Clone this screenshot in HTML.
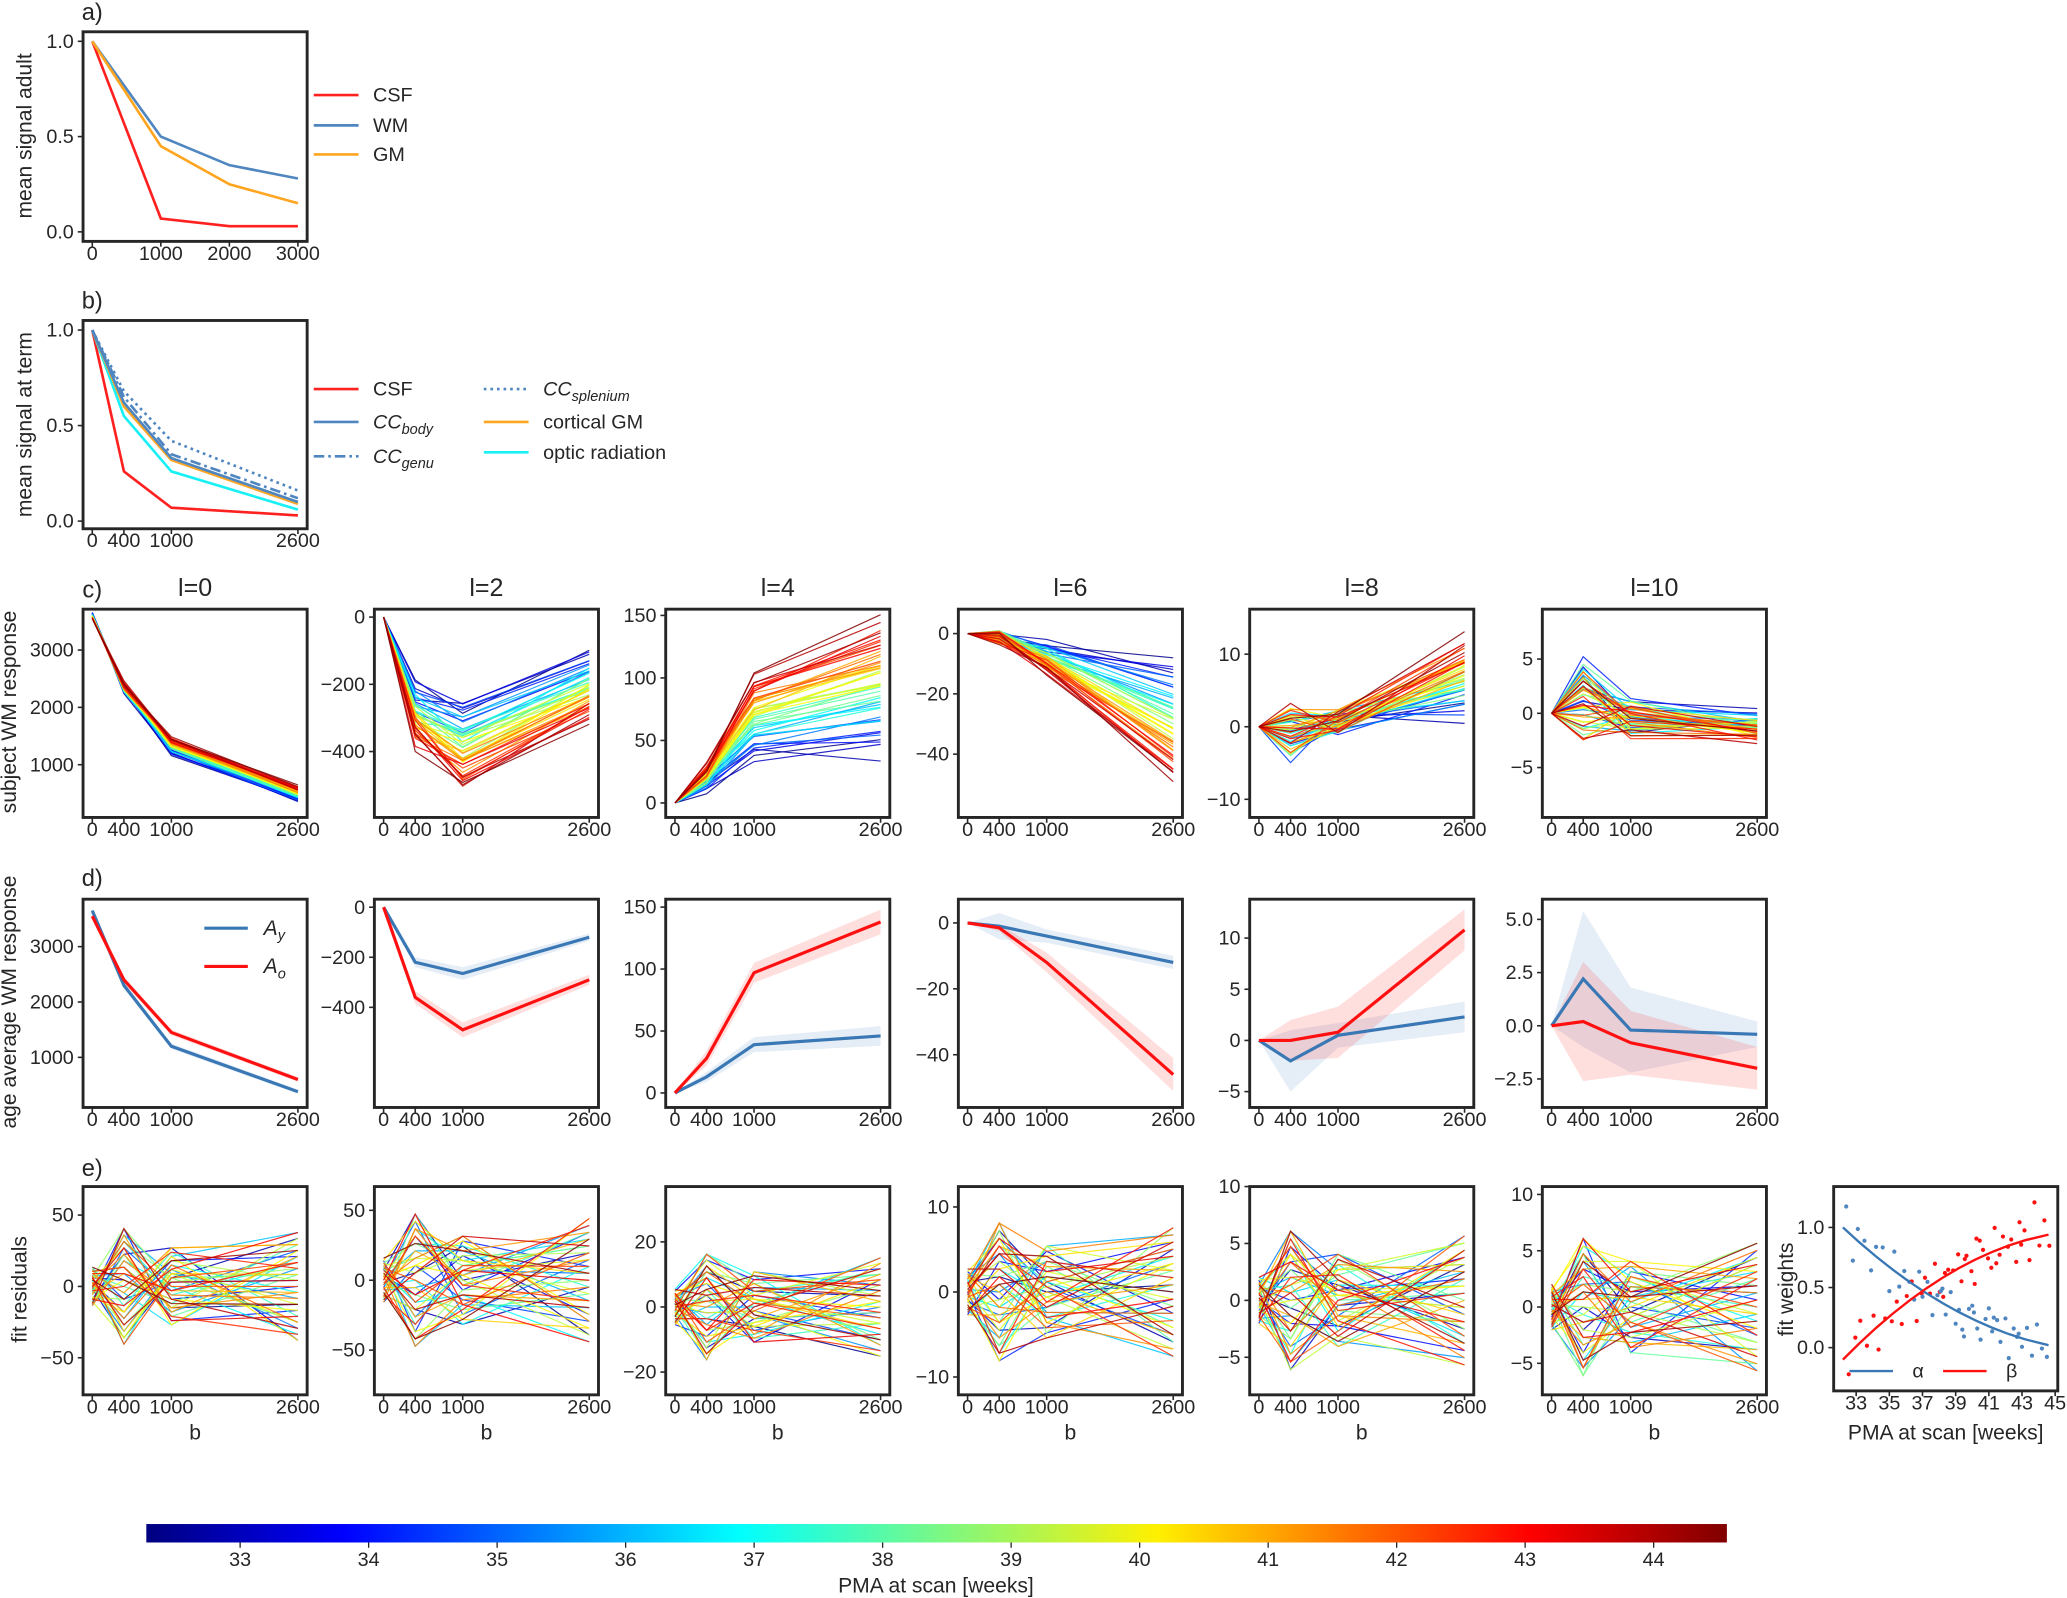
<!DOCTYPE html>
<html><head><meta charset="utf-8">
<style>
html,body{margin:0;padding:0;background:#fff;}
svg{display:block;font-family:"Liberation Sans","DejaVu Sans",sans-serif;}
</style></head>
<body>
<svg id="fig" width="2067" height="1598" viewBox="0 0 1568 1212" xmlns="http://www.w3.org/2000/svg"></svg>
<script>
// ---------- data ----------
const bA = [0,1000,2000,3000];
const aCSF = [1,0.07,0.03,0.03];
const aWM = [1,0.5,0.35,0.28];
const aGM = [1,0.45,0.25,0.15];
const bB = [0,400,1000,2600];
const tCSF = [1,0.26,0.07,0.03];
const tBody = [1,0.62,0.33,0.10];
const tGenu = [1,0.65,0.35,0.12];
const tSpl = [1,0.68,0.42,0.16];
const tGM = [1,0.60,0.32,0.09];
const tOR = [1,0.55,0.26,0.06];
const harmonics = ["l=0","l=2","l=4","l=6","l=8","l=10"];
const Ay = [[3650,2300,1200,380],[0,-220,-265,-120],[0,13,39,46],[0,-1,-4,-12],[0,-2,0.5,2.3],[0,2.2,-0.2,-0.4]];
const Ao = [[3550,2400,1450,600],[0,-360,-490,-290],[0,28,97,138],[0,-1.5,-12,-46],[0,0,0.8,10.8],[0,0.2,-0.8,-2]];
const bandY = [[40,60,50,40],[0,20,25,15],[0,4,6,8],[0,4,2,2],[0,3,1.2,1.5],[0,3.2,2,0.6]];
const bandO = [[40,60,50,40],[0,25,30,20],[0,6,8,10],[0,1,3,5],[0,2,2.5,2],[0,2.8,1.5,1]];
const spreadC = [[120,120,90,70],[0,70,70,50],[0,9,12,20],[0,4,4,7],[0,6,3,4],[0,6,3,1.5]];
const spreadE = [30,35,12,6,4.5,4.5];
const ages = [32.4,32.8,33.1,33.5,33.9,34.2,34.6,35.0,35.3,35.6,35.9,36.2,36.5,36.8,37.0,37.3,37.6,37.9,38.1,38.4,38.7,39.0,39.2,39.5,39.8,40.0,40.3,40.5,40.8,41.0,41.2,41.5,41.7,42.0,42.2,42.5,42.7,43.0,43.3,43.6,43.9,44.2,44.5,40.1,41.3,39.4,42.8,38.2];
const nA = [0.3,-0.8,0.5,0.1,-0.4,0.9,-0.2,0.6,-0.7,0.2,0.8,-0.5,-0.1,0.4,-0.9,0.7,-0.3,0.0,0.5,-0.6,0.9,-0.2,0.3,-0.8,0.1,0.6,-0.4,-0.7,0.2,0.8,-0.1,0.4,-0.5,0.7,-0.9,0.3,0.0,-0.3,0.6,-0.6,0.9,-0.2,0.1,-0.4,0.5,-0.8,0.2,0.7];
const nB = [-0.5,0.2,0.9,-0.3,0.6,-0.8,0.1,-0.1,0.4,-0.6,0.3,0.7,-0.9,0.0,0.5,-0.2,0.8,-0.4,-0.7,0.2,0.1,0.6,-0.5,0.4,-0.3,-0.9,0.7,0.3,-0.1,-0.6,0.9,-0.2,0.5,0.0,0.2,-0.7,0.8,0.4,-0.8,0.1,-0.3,0.6,-0.4,0.9,-0.5,0.3,-0.1,0.2];
const nC = [0.7,-0.1,-0.6,0.4,0.2,-0.3,0.8,-0.9,0.0,0.5,-0.4,0.1,0.6,-0.7,0.3,-0.2,0.9,0.5,-0.8,-0.1,0.4,-0.5,0.7,0.2,-0.6,0.3,0.1,0.8,-0.3,-0.4,0.6,-0.9,0.2,-0.1,0.5,0.7,-0.2,-0.6,0.0,0.4,-0.8,0.3,0.9,-0.5,0.1,-0.7,0.6,-0.3];
const alphaNoise = [0.2,-0.2,0.1,0.05,-0.15,0.08,0.12,-0.2,0.16,-0.1,0.06,0.0,-0.12,0.14,-0.05,0.1,-0.15,0.04,0.09,-0.08,0.13,-0.11,0.02,-0.18,0.07,0.11,-0.06,-0.14,0.05,0.15,-0.03,0.08,-0.09,0.12,-0.2,0.06,0.0,-0.07,0.1,-0.12,0.15,-0.04,-0.1,0.06,0.09,-0.13,0.03,0.12];
const betaNoise = [-0.15,0.1,0.2,-0.06,0.14,-0.18,0.03,-0.04,0.09,-0.13,0.07,0.16,-0.2,0.0,0.11,-0.05,0.17,-0.09,-0.15,0.05,0.02,0.13,-0.11,0.08,-0.07,-0.19,0.15,0.06,-0.03,-0.12,0.2,-0.04,0.1,0.0,0.05,-0.15,0.17,0.09,-0.17,0.3,-0.07,0.13,-0.09,0.18,-0.1,0.06,-0.02,0.04];
const cbTicks = [33,34,35,36,37,38,39,40,41,42,43,44];

// ---------- helpers ----------
const svg = document.getElementById('fig');
const NS = 'http://www.w3.org/2000/svg';
function el(tag, attrs, parent){const e=document.createElementNS(NS,tag);for(const k in attrs)e.setAttribute(k,attrs[k]);(parent||svg).appendChild(e);return e;}
function txt(x,y,s,opt,parent){opt=opt||{};const t=el('text',{x:x,y:y,'font-size':opt.fs||15,fill:'#262626','text-anchor':opt.anchor||'middle'},parent);if(opt.rot)t.setAttribute('transform','rotate(-90 '+x+' '+y+')');t.textContent=s;return t;}
function jet(v){const lo=32.27,hi=44.57;let t=(v-lo)/(hi-lo);t=Math.max(0,Math.min(1,t));
  const r=Math.max(0,Math.min(1,1.5-Math.abs(4*t-3))),g=Math.max(0,Math.min(1,1.5-Math.abs(4*t-2))),b=Math.max(0,Math.min(1,1.5-Math.abs(4*t-1)));
  return 'rgb('+Math.round(r*255)+','+Math.round(g*255)+','+Math.round(b*255)+')';}
function axes(name,x0,y0,w,h,xd,yd,pad){pad=pad||7;
  const g=el('g',{});
  const ax={g:g,x0:x0,y0:y0,w:w,h:h,
    X:v=>x0+pad+(v-xd[0])/(xd[1]-xd[0])*(w-2*pad),
    Y:v=>y0+h-(v-yd[0])/(yd[1]-yd[0])*h};
  const plot=el('g',{},g);
  ax.plot=plot;return ax;}
function frame(ax,xt,xl,yt,yl){
  el('rect',{x:ax.x0,y:ax.y0,width:ax.w,height:ax.h,fill:'none',stroke:'#262626','stroke-width':2.2},ax.g);
  const xg=el('g',{},ax.g);
  xt.forEach((v,i)=>{const x=ax.X(v);el('line',{x1:x,x2:x,y1:ax.y0+ax.h,y2:ax.y0+ax.h+4,stroke:'#262626','stroke-width':1.2},xg);txt(x,ax.y0+ax.h+14,xl[i],{fs:15},xg);});
  const yg=el('g',{},ax.g);
  yt.forEach((v,i)=>{const y=ax.Y(v);el('line',{x1:ax.x0-4,x2:ax.x0,y1:y,y2:y,stroke:'#262626','stroke-width':1.2},yg);txt(ax.x0-7,y+5,yl[i],{fs:15,anchor:'end'},yg);});}
function line(ax,xs,ys,attrs){const d=xs.map((x,i)=>(i?'L':'M')+ax.X(x).toFixed(2)+' '+ax.Y(ys[i]).toFixed(2)).join(' ');
  const a={d:d,fill:'none'};for(const k in attrs)a[k]=attrs[k];return el('path',a,ax.plot);}
function band(ax,xs,ys,ws,color){const up=xs.map((x,i)=>ax.X(x)+','+ax.Y(ys[i]+ws[i])),dn=xs.map((x,i)=>ax.X(x)+','+ax.Y(ys[i]-ws[i])).reverse();
  return el('polygon',{points:up.concat(dn).join(' '),fill:color,'fill-opacity':0.15,stroke:'none'},ax.plot);}

// ---------- labels ----------
[['a)',70,15],['b)',70,234],['c)',70,453],['d)',70,672],['e)',70,892]].forEach(p=>{const t=txt(p[1],p[2],p[0],{fs:18});});
[['mean signal adult',24,103],['mean signal at term',24,322],['subject WM response',12,540],['age average WM response',12,760],['fit residuals',20,978]].forEach(p=>{const t=txt(p[1],p[2],p[0],{fs:16,rot:true});});

// ---------- panel a ----------
const pa=axes('panel-a-adult-signal',63,24,170,159,[0,3000],[-0.05,1.05]);
frame(pa,[0,1000,2000,3000],['0','1000','2000','3000'],[0,0.5,1],['0.0','0.5','1.0']);
line(pa,bA,aCSF,{stroke:'#ff2020','stroke-width':2});
line(pa,bA,aWM,{stroke:'#4f86c0','stroke-width':2});
line(pa,bA,aGM,{stroke:'#ffa520','stroke-width':2});
[['CSF','#ff2020',72],['WM','#4f86c0',95],['GM','#ffa520',117]].forEach(l=>{const g=el('g',{});
  el('line',{x1:238,x2:272,y1:l[2],y2:l[2],stroke:l[1],'stroke-width':2},g);txt(283,l[2]+5,l[0],{fs:15,anchor:'start'},g);});

// ---------- panel b ----------
const pb=axes('panel-b-term-signal',63,243,170,158,[0,2600],[-0.04,1.05]);
frame(pb,[0,400,1000,2600],['0','400','1000','2600'],[0,0.5,1],['0.0','0.5','1.0']);
line(pb,bB,tCSF,{stroke:'#ff2020','stroke-width':2});
line(pb,bB,tOR,{stroke:'#19f0f5','stroke-width':2});
line(pb,bB,tGM,{stroke:'#ffa520','stroke-width':2});
line(pb,bB,tBody,{stroke:'#4f86c0','stroke-width':2});
line(pb,bB,tGenu,{stroke:'#4f86c0','stroke-width':2,'stroke-dasharray':'8 3 2 3'});
line(pb,bB,tSpl,{stroke:'#4f86c0','stroke-width':2,'stroke-dasharray':'2 3'});
function legB(x,y,lab,sub,c,dash){const g=el('g',{});
  const a={x1:x,x2:x+34,y1:y,y2:y,stroke:c,'stroke-width':2};if(dash)a['stroke-dasharray']=dash;el('line',a,g);
  const t=txt(x+45,y+5,'',{fs:15,anchor:'start'},g);
  if(sub){const s1=el('tspan',{'font-style':'italic'},t);s1.textContent=lab;const s2=el('tspan',{'font-style':'italic','font-size':11,dy:4},t);s2.textContent=sub;}else t.textContent=lab;}
legB(238,295,'CSF',null,'#ff2020');legB(238,320,'CC','body','#4f86c0');legB(238,346,'CC','genu','#4f86c0','8 3 2 3');
legB(367,295,'CC','splenium','#4f86c0','2 3');legB(367,320,'cortical GM',null,'#ffa520');legB(367,343,'optic radiation',null,'#19f0f5');

// ---------- rows c, d, e ----------
const colX=[63,284,505,727,948,1170];
const cDom=[[80,3713],[-596,23.5],[-11.6,155],[-61,8.1],[-12.5,16.2],[-9.6,9.6]];
const cTk=[[1000,2000,3000],[-400,-200,0],[0,50,100,150],[-40,-20,0],[-10,0,10],[-5,0,5]];
const dDom=[[95,3857],[-800,32],[-11.7,156.4],[-56,7.2],[-6.55,13.8],[-3.84,5.95]];
const dTk=[[1000,2000,3000],[-400,-200,0],[0,50,100,150],[-40,-20,0],[-5,0,5,10],[-2.5,0,2.5,5]];
const dTl=[['1000','2000','3000'],['−400','−200','0'],['0','50','100','150'],['−40','−20','0'],['−5','0','5','10'],['−2.5','0.0','2.5','5.0']];
const eDom=[[-76,70],[-82,67],[-27,37],[-12.1,12.4],[-8.3,10],[-7.8,10.7]];
const eTk=[[-50,0,50],[-50,0,50],[-20,0,20],[-10,0,10],[-5,0,5,10],[-5,0,5,10]];
const lab=v=>(v<0?'−':'')+Math.abs(v);
const order=ages.map((a,i)=>i).sort((p,q)=>ages[p]-ages[q]);
for(let k=0;k<6;k++){
  const x0=colX[k];
  const tt=txt(x0+85,452,harmonics[k],{fs:19});
  // row c
  const pc=axes('panel-c-'+harmonics[k],x0,462,170,158,[0,2600],cDom[k]);
  order.forEach(i=>{const t=(ages[i]-33)/11;const nn=[0,nA[(i+k*7)%48],nB[(i+k*5)%48],nC[(i+k*3)%48]];
    const vs=bB.map((b,j)=>Ay[k][j]+(Ao[k][j]-Ay[k][j])*t+spreadC[k][j]*nn[j]*0.6);
    const p=line(pc,bB,vs,{stroke:jet(ages[i]),'stroke-width':0.9,'stroke-opacity':0.85});
    });
  frame(pc,bB,['0','400','1000','2600'],cTk[k],cTk[k].map(lab));
  // row d
  const pd=axes('panel-d-'+harmonics[k],x0,682,170,158,[0,2600],dDom[k]);
  band(pd,bB,Ay[k],bandY[k],'#4f86c0');band(pd,bB,Ao[k],bandO[k],'#ff2020');
  line(pd,bB,Ay[k],{stroke:'#3a78b5','stroke-width':2.4});
  line(pd,bB,Ao[k],{stroke:'#ff1010','stroke-width':2.4});
  frame(pd,bB,['0','400','1000','2600'],dTk[k],dTl[k]);
  // row e
  const pe=axes('panel-e-'+harmonics[k],x0,900,170,158,[0,2600],eDom[k]);
  order.forEach(i=>{const s=spreadE[k];const vs=[s*0.5*nC[(i+k)%48],s*1.5*nA[(i+k*3)%48],s*nB[(i+k*11)%48],s*1.4*nC[(i+k*13+5)%48]];
    const p=line(pe,bB,vs,{stroke:jet(ages[i]),'stroke-width':0.9,'stroke-opacity':0.85});
    });
  frame(pe,bB,['0','400','1000','2600'],eTk[k],eTk[k].map(lab));
  const xl=txt(x0+85,1092,'b',{fs:16});
}
// legend in d l=0
[['y','#3a78b5',704],['o','#ff1010',733]].forEach(l=>{const g=el('g',{});
  el('line',{x1:155,x2:188,y1:l[2],y2:l[2],stroke:l[1],'stroke-width':2.4},g);
  const t=txt(200,l[2]+5,'',{fs:16,anchor:'start'},g);const a=el('tspan',{'font-style':'italic'},t);a.textContent='A';const b=el('tspan',{'font-style':'italic','font-size':11,dy:4},t);b.textContent=l[0];});

// ---------- fit weights ----------
const pw=axes('panel-fit-weights',1391,900,170,155,[32.2,44.6],[-0.36,1.34],0);
ages.forEach((a,i)=>{const t=(a-32.2)/12.4;const al=1-1.6*t+0.62*t*t, be=-0.1+1.75*t-0.71*t*t;
  const c1=el('circle',{cx:pw.X(a),cy:pw.Y(al+alphaNoise[i]),r:1.6,fill:'#4f86c0'},pw.plot);
  const c2=el('circle',{cx:pw.X(a+0.15),cy:pw.Y(be+betaNoise[i]),r:1.6,fill:'#ff1010'},pw.plot);});
const fitX=[32.2,33.2,34.2,35.2,36.2,37.2,38.2,39.2,40.2,41.2,42.2,43.2,44.6];
line(pw,fitX,fitX.map(a=>{const t=(a-32.2)/12.4;return 1-1.6*t+0.62*t*t;}),{stroke:'#3a78b5','stroke-width':1.8});
line(pw,fitX,fitX.map(a=>{const t=(a-32.2)/12.4;return -0.1+1.75*t-0.71*t*t;}),{stroke:'#ff1010','stroke-width':1.8});
frame(pw,[33,35,37,39,41,43,45],['33','35','37','39','41','43','45'],[0,0.5,1],['0.0','0.5','1.0']);
[['α','#3a78b5',1403],['β','#ff1010',1474]].forEach(l=>{const g=el('g',{});
  el('line',{x1:l[2],x2:l[2]+33,y1:1040,y2:1040,stroke:l[1],'stroke-width':1.8},g);txt(l[2]+52,1045,l[0],{fs:15},g);});
const wy=txt(1360,978,'fit weights',{fs:16,rot:true});
const wx=txt(1476,1092,'PMA at scan [weeks]',{fs:16});

// ---------- colorbar ----------
const cb=el('g',{});
const grad=el('linearGradient',{id:'jetg',x1:0,x2:1,y1:0,y2:0},el('defs',{},cb));
[0,0.11,0.125,0.34,0.35,0.375,0.64,0.66,0.875,0.89,0.91,1].forEach(o=>el('stop',{offset:o,'stop-color':jet(32.27+o*12.3)},grad));
el('rect',{x:111,y:1156,width:1199,height:14,fill:'url(#jetg)'},cb);
cbTicks.forEach(v=>{const x=111+(v-32.27)/12.3*1199;el('line',{x1:x,x2:x,y1:1170,y2:1174,stroke:'#262626','stroke-width':1},cb);txt(x,1188,String(v),{fs:15},cb);});
txt(710,1208,'PMA at scan [weeks]',{fs:16},cb);
</script>
</body></html>
